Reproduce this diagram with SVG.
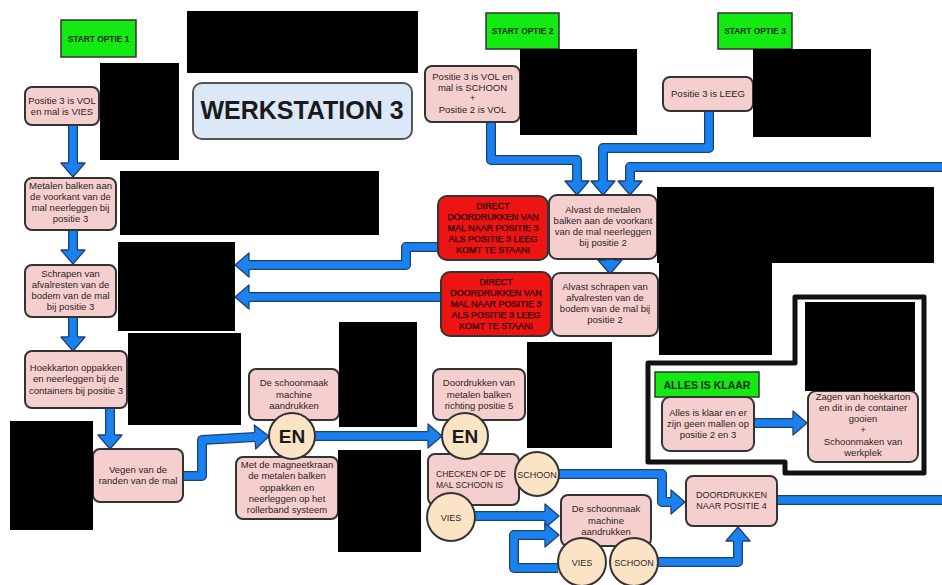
<svg xmlns="http://www.w3.org/2000/svg" xmlns:xlink="http://www.w3.org/1999/xlink" width="942" height="585" viewBox="0 0 942 585">
  <style>
    .box { fill: #f5cfcd; stroke: #333; stroke-width: 2; }
    .red { fill: #ef1414; stroke: #333; stroke-width: 2; }
    .green { fill: #12ea12; stroke: #333; stroke-width: 1.5; }
    .circ { fill: #fbe3c6; stroke: #333; stroke-width: 2; }
    .t { font-family: "Liberation Sans", Arial, sans-serif; font-size: 9.5px; fill: #2e2424; text-anchor: middle; }
    .tr { font-family: "Liberation Sans", Arial, sans-serif; font-size: 9px; fill: #220000; stroke: #220000; stroke-width: 0.25; text-anchor: middle; }
    .tg { font-family: "Liberation Sans", Arial, sans-serif; font-size: 8.4px; font-weight: bold; fill: #0b2a0b; text-anchor: middle; }
    .ten { font-family: "Liberation Sans", Arial, sans-serif; font-size: 19px; font-weight: bold; fill: #1a1a1a; text-anchor: middle; }
    .tc { font-family: "Liberation Sans", Arial, sans-serif; font-size: 9px; fill: #2e2626; text-anchor: middle; }
    .out { fill: none; stroke: #1f3f6d; stroke-width: 10; stroke-linejoin: round; }
    .in { fill: none; stroke: #1a82f0; stroke-width: 7.5; stroke-linejoin: round; }
    .head { marker-end: url(#ah); }
    .blk { fill: #000; }
  </style>
  <defs>
    <marker id="ah" markerUnits="userSpaceOnUse" markerWidth="20" markerHeight="30" viewBox="-2 -15 18 30" refX="0" refY="0" orient="auto" overflow="visible">
      <path d="M0,-12 L14,0 L0,12 Z" fill="#1a82f0"/>
      <path d="M0,-4.5 L0,-12 L14,0 L0,12 L0,4.5" fill="none" stroke="#1f3f6d" stroke-width="1.3" stroke-linejoin="round"/>
    </marker>
    <path id="e1" d="M73,125 V163"/>
    <path id="e2" d="M73,230 V250"/>
    <path id="e3" d="M73,317 V337"/>
    <path id="e4" d="M110,408 V435"/>
    <path id="e5" d="M183,476 H202 V440 L255,437"/>
    <path id="e6" d="M315,436 H428"/>
    <path id="e7" d="M438,247 H406 V265 H249"/>
    <path id="e8" d="M441,297 H249"/>
    <path id="e9" d="M491,122 V160 H577 V181"/>
    <path id="e10" d="M709,111 V148 H603 V181"/>
    <path id="e11" d="M945,167 H630 V181"/>
    <path id="e12" d="M610,255 V260"/>
    <path id="e13" d="M754,423 H793"/>
    <path id="e14" d="M475,516 H545"/>
    <path id="e15" d="M558,568 H514 V535 H545"/>
    <path id="e16" d="M658,562 H738 V541"/>
    <path id="e17" d="M559,474 H662 V502 H671"/>
    <path id="e18" d="M777,500 H945"/>
  </defs>

  <rect width="942" height="585" fill="#fff"/>

  <!-- connectors: dark outline underneath, blue body with head on top -->
  <g id="connectors">
    <use xlink:href="#e1" class="out"/><use xlink:href="#e1" class="in head"/>
    <use xlink:href="#e2" class="out"/><use xlink:href="#e2" class="in head"/>
    <use xlink:href="#e3" class="out"/><use xlink:href="#e3" class="in head"/>
    <use xlink:href="#e4" class="out"/><use xlink:href="#e4" class="in head"/>
    <use xlink:href="#e5" class="out"/><use xlink:href="#e5" class="in head"/>
    <use xlink:href="#e6" class="out"/><use xlink:href="#e6" class="in head"/>
    <use xlink:href="#e7" class="out"/><use xlink:href="#e7" class="in head"/>
    <use xlink:href="#e8" class="out"/><use xlink:href="#e8" class="in head"/>
    <use xlink:href="#e9" class="out"/><use xlink:href="#e9" class="in head"/>
    <use xlink:href="#e10" class="out"/><use xlink:href="#e10" class="in head"/>
    <use xlink:href="#e11" class="out"/><use xlink:href="#e11" class="in head"/>
    <use xlink:href="#e12" class="out"/><use xlink:href="#e12" class="in head"/>
    <use xlink:href="#e13" class="out"/><use xlink:href="#e13" class="in head"/>
    <use xlink:href="#e14" class="out"/><use xlink:href="#e14" class="in head"/>
    <use xlink:href="#e15" class="out"/><use xlink:href="#e15" class="in head"/>
    <use xlink:href="#e16" class="out"/><use xlink:href="#e16" class="in head"/>
    <use xlink:href="#e17" class="out"/><use xlink:href="#e17" class="in head"/>
    <use xlink:href="#e18" class="out"/><use xlink:href="#e18" class="in"/>
  </g>

  <!-- title -->
  <g id="werkstation">
    <rect x="193" y="83" width="219" height="56" rx="9" fill="#dbe8f7" stroke="#555" stroke-width="2"/>
    <text x="302" y="119" font-family="Liberation Sans, Arial, sans-serif" font-size="25" font-weight="bold" fill="#1a1a1a" text-anchor="middle">WERKSTATION 3</text>
  </g>

  <!-- left column -->
  <g id="start1">
    <rect class="green" x="61" y="20" width="75" height="37"/>
    <text class="tg" x="98.5" y="41.5">START OPTIE 1</text>
  </g>
  <g id="n-vol-vies">
    <rect class="box" x="25" y="87" width="74" height="38" rx="7"/>
    <text class="t"><tspan x="62" y="104">Positie 3 is VOL</tspan><tspan x="62" y="115">en mal is VIES</tspan></text>
  </g>
  <g id="n-metalen">
    <rect class="box" x="25" y="178" width="91" height="52" rx="7"/>
    <text class="t"><tspan x="70.5" y="189">Metalen balken aan</tspan><tspan x="70.5" y="200">de voorkant van de</tspan><tspan x="70.5" y="211">mal neerleggen bij</tspan><tspan x="70.5" y="222">positie 3</tspan></text>
  </g>
  <g id="n-schrapen">
    <rect class="box" x="25" y="265" width="91" height="52" rx="7"/>
    <text class="t"><tspan x="70.5" y="277">Schrapen van</tspan><tspan x="70.5" y="288">afvalresten van de</tspan><tspan x="70.5" y="299">bodem van de mal</tspan><tspan x="70.5" y="310">bij positie 3</tspan></text>
  </g>
  <g id="n-hoekkarton">
    <rect class="box" x="25" y="351" width="102" height="57" rx="7"/>
    <text class="t"><tspan x="76" y="371">Hoekkarton oppakken</tspan><tspan x="76" y="382">en neerleggen bij de</tspan><tspan x="76" y="394">containers bij positie 3</tspan></text>
  </g>
  <g id="n-vegen">
    <rect class="box" x="93" y="449" width="90" height="53" rx="7"/>
    <text class="t"><tspan x="138" y="473">Vegen van de</tspan><tspan x="138" y="484">randen van de mal</tspan></text>
  </g>

  <!-- middle row -->
  <g id="n-schoonmaak1">
    <rect class="box" x="249" y="369" width="90" height="51" rx="7"/>
    <text class="t"><tspan x="294" y="386">De schoonmaak</tspan><tspan x="294" y="398">machine</tspan><tspan x="294" y="409">aandrukken</tspan></text>
  </g>
  <g id="n-magneet">
    <rect class="box" x="236" y="457" width="102" height="62" rx="7"/>
    <text class="t"><tspan x="287" y="468">Met de magneetkraan</tspan><tspan x="287" y="479">de metalen balken</tspan><tspan x="287" y="491">oppakken en</tspan><tspan x="287" y="502">neerleggen op het</tspan><tspan x="287" y="513">rollerband systeem</tspan></text>
  </g>
  <g id="n-en1">
    <circle class="circ" cx="292" cy="436" r="23"/>
    <text class="ten" x="292" y="443">EN</text>
  </g>
  <g id="n-doordrukken5">
    <rect class="box" x="433" y="369" width="92" height="51" rx="7"/>
    <text class="t"><tspan x="479" y="386">Doordrukken van</tspan><tspan x="479" y="398">metalen balken</tspan><tspan x="479" y="409">richting positie 5</tspan></text>
  </g>
  <g id="n-checken">
    <rect class="box" x="428" y="454" width="91" height="51" rx="7"/>
    <text class="t" style="font-size:8.5px;text-anchor:start"><tspan x="436" y="477">CHECKEN OF DE</tspan><tspan x="436" y="488">MAL SCHOON IS</tspan></text>
  </g>
  <g id="n-en2">
    <circle class="circ" cx="465" cy="436" r="23"/>
    <text class="ten" x="465" y="443">EN</text>
  </g>
  <g id="c-schoon1">
    <circle class="circ" cx="537" cy="474" r="22"/>
    <text class="tc" x="537" y="477.5">SCHOON</text>
  </g>
  <g id="c-vies1">
    <circle class="circ" cx="451" cy="517" r="24"/>
    <text class="tc" x="451" y="520.5">VIES</text>
  </g>
  <g id="n-schoonmaak2">
    <rect class="box" x="561" y="495" width="90" height="51" rx="7"/>
    <text class="t"><tspan x="606" y="512">De schoonmaak</tspan><tspan x="606" y="524">machine</tspan><tspan x="606" y="535">aandrukken</tspan></text>
  </g>
  <g id="c-vies2">
    <circle class="circ" cx="582" cy="562" r="24"/>
    <text class="tc" x="582" y="565.5">VIES</text>
  </g>
  <g id="c-schoon2">
    <circle class="circ" cx="634" cy="562" r="24"/>
    <text class="tc" x="634" y="565.5">SCHOON</text>
  </g>
  <g id="n-doordrukken4">
    <rect class="box" x="686" y="476" width="91" height="50" rx="7"/>
    <text class="t" style="font-size:9px"><tspan x="731.5" y="498">DOORDRUKKEN</tspan><tspan x="731.5" y="509">NAAR POSITIE 4</tspan></text>
  </g>

  <!-- top right -->
  <g id="start2">
    <rect class="green" x="486" y="13" width="73" height="36"/>
    <text class="tg" x="522.5" y="34">START OPTIE 2</text>
  </g>
  <g id="n-vol-schoon">
    <rect class="box" x="425" y="66" width="95" height="56" rx="7"/>
    <text class="t"><tspan x="472.5" y="80">Positie 3 is VOL en</tspan><tspan x="472.5" y="91">mal is SCHOON</tspan><tspan x="472.5" y="101">+</tspan><tspan x="472.5" y="113">Positie 2 is VOL</tspan></text>
  </g>
  <g id="start3">
    <rect class="green" x="718" y="13" width="74" height="36"/>
    <text class="tg" x="755" y="34">START OPTIE 3</text>
  </g>
  <g id="n-leeg">
    <rect class="box" x="663" y="77" width="90" height="34" rx="7"/>
    <text class="t" x="708" y="97">Positie 3 is LEEG</text>
  </g>
  <g id="n-alvast-balken">
    <rect class="box" x="549" y="195" width="108" height="64" rx="8"/>
    <text class="t"><tspan x="603" y="213">Alvast de metalen</tspan><tspan x="603" y="224">balken aan de voorkant</tspan><tspan x="603" y="235">van de mal neerleggen</tspan><tspan x="603" y="246">bij positie 2</tspan></text>
  </g>
  <g id="n-alvast-schrapen">
    <rect class="box" x="552" y="273" width="106" height="63" rx="8"/>
    <text class="t"><tspan x="605" y="290">Alvast schrapen van</tspan><tspan x="605" y="301">afvalresten van de</tspan><tspan x="605" y="312">bodem van de mal bij</tspan><tspan x="605" y="323">positie 2</tspan></text>
  </g>
  <g id="n-direct1">
    <rect class="red" x="438" y="196" width="110" height="64" rx="9"/>
    <text class="tr"><tspan x="493" y="209">DIRECT</tspan><tspan x="493" y="220">DOORDRUKKEN VAN</tspan><tspan x="493" y="231">MAL NAAR POSITIE 3</tspan><tspan x="493" y="242">ALS POSITIE 3 LEEG</tspan><tspan x="493" y="253">KOMT TE STAAN!</tspan></text>
  </g>
  <g id="n-direct2">
    <rect class="red" x="441" y="272" width="110" height="64" rx="9"/>
    <text class="tr"><tspan x="496" y="285">DIRECT</tspan><tspan x="496" y="296">DOORDRUKKEN VAN</tspan><tspan x="496" y="307">MAL NAAR POSITIE 3</tspan><tspan x="496" y="318">ALS POSITIE 3 LEEG</tspan><tspan x="496" y="329">KOMT TE STAAN!</tspan></text>
  </g>

  <!-- finishing frame -->
  <g id="klaar-frame">
    <path d="M648,363 H795 V297 H924 V473 H785 V462 H648 Z" fill="none" stroke="#111" stroke-width="5" stroke-linejoin="round"/>
  </g>
  <g id="start-klaar">
    <rect class="green" x="655" y="372" width="104" height="25"/>
    <text class="tg" x="707" y="388.5" style="font-size:10.5px">ALLES IS KLAAR</text>
  </g>
  <g id="n-klaar">
    <rect class="box" x="662" y="397" width="92" height="54" rx="8"/>
    <text class="t"><tspan x="708" y="416">Alles is klaar en er</tspan><tspan x="708" y="427">zijn geen mallen op</tspan><tspan x="708" y="438">positie 2 en 3</tspan></text>
  </g>
  <g id="n-zagen">
    <rect class="box" x="808" y="391" width="110" height="71" rx="8"/>
    <text class="t"><tspan x="863" y="400">Zagen van hoekkarton</tspan><tspan x="863" y="411">en dit in de container</tspan><tspan x="863" y="422">gooien</tspan><tspan x="863" y="433">+</tspan><tspan x="863" y="445">Schoonmaken van</tspan><tspan x="863" y="456">werkplek</tspan></text>
  </g>

  <!-- solid black panels -->
  <g id="black-panels">
    <rect class="blk" x="187" y="11" width="231" height="62"/>
    <rect class="blk" x="100" y="63" width="79" height="97"/>
    <rect class="blk" x="120" y="171" width="259" height="64"/>
    <rect class="blk" x="118" y="242" width="117" height="89"/>
    <rect class="blk" x="128" y="333" width="113" height="92"/>
    <rect class="blk" x="10" y="421" width="83" height="109"/>
    <rect class="blk" x="339" y="322" width="78" height="105"/>
    <rect class="blk" x="338" y="450" width="83" height="102"/>
    <rect class="blk" x="527" y="342" width="85" height="106"/>
    <rect class="blk" x="520" y="49" width="117" height="86"/>
    <rect class="blk" x="753" y="49" width="118" height="88"/>
    <rect class="blk" x="657" y="187" width="277" height="76"/>
    <rect class="blk" x="659" y="263" width="113" height="92"/>
    <rect class="blk" x="805" y="302" width="110" height="89"/>
  </g>
</svg>
